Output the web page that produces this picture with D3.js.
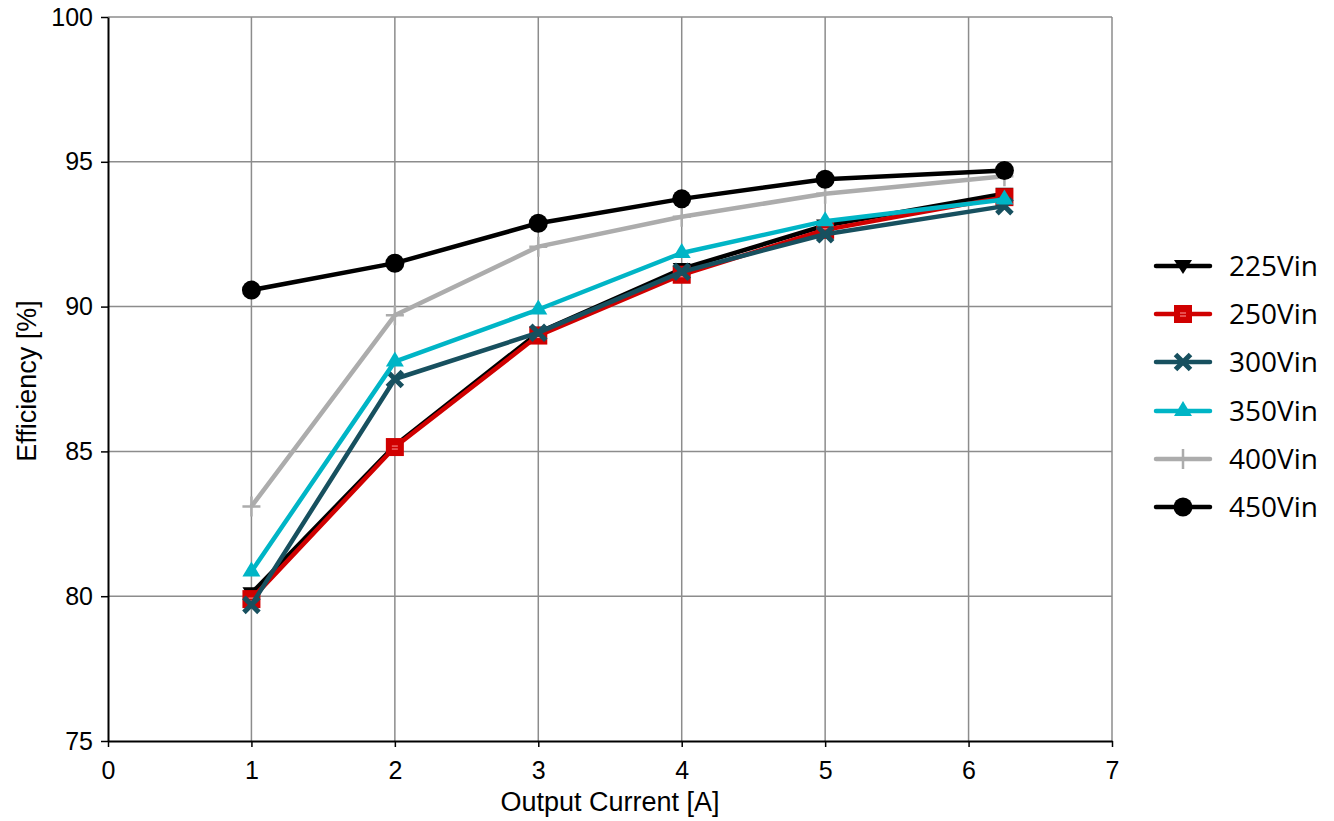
<!DOCTYPE html>
<html>
<head>
<meta charset="utf-8">
<script src="https://cdn.jsdelivr.net/npm/d3@7"></script>
<style>
  body { margin: 0; background: #fff; }
  svg { display: block; }
</style>
</head>
<body>
<div id="chart"></div>
<script>
// Data
var currents = [1, 2, 3, 4, 5, 6.25];
var seriesNames = ["225Vin", "250Vin", "300Vin", "350Vin", "400Vin", "450Vin"];
var eff225 = [80.1, 85.2, 89.1, 91.3, 92.8, 93.9];
var eff250 = [79.9, 85.15, 89.0, 91.1, 92.65, 93.78];
var eff300 = [79.7, 87.5, 89.1, 91.2, 92.5, 93.47];
var eff350 = [80.85, 88.1, 89.9, 91.85, 92.95, 93.7];
var eff400 = [83.1, 89.7, 92.07, 93.1, 93.9, 94.5];
var eff450 = [90.57, 91.5, 92.88, 93.72, 94.4, 94.7];
var xTicks = [0, 1, 2, 3, 4, 5, 6, 7];
var yTicks = [75, 80, 85, 90, 95, 100];

var allSeries = [eff225, eff250, eff300, eff350, eff400, eff450];
var colors = ["#000000", "#d00000", "#17505f", "#00b5c6", "#acacac", "#000000"];
var markers = ["tridown", "square", "cross", "triup", "plus", "circle"];

//Setup
var width = 1334, height = 821;
var margin = { top: 17, right: 222, bottom: 80, left: 108 };
var plotW = width - margin.left - margin.right,
    plotH = height - margin.top - margin.bottom;

var x = d3.scaleLinear().domain([0, 7]).range([0, plotW]);
var y = d3.scaleLinear().domain([75, 100]).range([plotH, 0]);

var svg = d3.select("#chart").append("svg")
    .attr("width", width)
    .attr("height", height);

var g = svg.append("g")
    .attr("transform", "translate(" + margin.left + "," + margin.top + ")");

//Grid
g.append("g").selectAll("line").data(xTicks.slice(1)).join("line")
    .attr("x1", d => x(d)).attr("x2", d => x(d))
    .attr("y1", 0).attr("y2", plotH)
    .attr("stroke", "#8c8c8c").attr("stroke-width", 1.5);
g.append("g").selectAll("line").data(yTicks.slice(1)).join("line")
    .attr("x1", 0).attr("x2", plotW)
    .attr("y1", d => y(d)).attr("y2", d => y(d))
    .attr("stroke", "#8c8c8c").attr("stroke-width", 1.5);

//Axes
var xAxis = g.append("g")
    .attr("transform", "translate(0," + plotH + ")")
    .call(d3.axisBottom(x).tickValues(xTicks).tickFormat(d3.format("d"))
        .tickSize(6).tickSizeOuter(0).tickPadding(14));
var yAxis = g.append("g")
    .call(d3.axisLeft(y).tickValues(yTicks).tickFormat(d3.format("d"))
        .tickSize(7).tickSizeOuter(0).tickPadding(8));
[xAxis, yAxis].forEach(a => {
    a.select(".domain").attr("stroke", "#000").attr("stroke-width", 2);
    a.selectAll(".tick line").attr("stroke", "#000").attr("stroke-width", 1.5);
    a.selectAll(".tick text")
        .attr("fill", "#000")
        .style("font-family", "Liberation Sans, Arial, sans-serif")
        .style("font-size", "25px");
});

//Axis titles
svg.append("text")
    .attr("x", margin.left + x(3.5)).attr("y", 811)
    .attr("text-anchor", "middle")
    .style("font-family", "Liberation Sans, Arial, sans-serif")
    .style("font-size", "27px")
    .text("Output Current [A]");
svg.append("text")
    .attr("transform", "translate(36," + (margin.top + 364) + ") rotate(-90)")
    .attr("text-anchor", "middle")
    .style("font-family", "Liberation Sans, Arial, sans-serif")
    .style("font-size", "27px")
    .text("Efficiency [%]");

//Markers
function drawMarker(sel, type, color) {
    if (type === "circle") {
        sel.append("circle").attr("r", 9.5).attr("fill", color);
    } else if (type === "square") {
        sel.append("rect").attr("x", -9).attr("y", -9).attr("width", 18).attr("height", 18).attr("fill", color);
        sel.append("line").attr("x1", -3).attr("x2", 3).attr("y1", -1).attr("y2", -1).attr("stroke", "#ff9a9a").attr("stroke-width", 1);
        sel.append("line").attr("x1", -3).attr("x2", 3).attr("y1", 2).attr("y2", 2).attr("stroke", "#ff9a9a").attr("stroke-width", 1);
    } else if (type === "tridown") {
        sel.append("path").attr("d", "M-9,-6L9,-6L0,8Z").attr("fill", color);
    } else if (type === "triup") {
        sel.append("path").attr("d", "M0,-10L9,5L-9,5Z").attr("fill", color);
    } else if (type === "cross") {
        sel.append("path").attr("d", "M-7.5,-7.5L7.5,7.5M-7.5,7.5L7.5,-7.5").attr("stroke", color).attr("stroke-width", 5);
    } else if (type === "plus") {
        sel.append("path").attr("d", "M-9,0L9,0M0,-10L0,10").attr("stroke", color).attr("stroke-width", 2.5);
    }
}

var line = d3.line()
    .x((d, i) => x(currents[i]))
    .y(d => y(d));

allSeries.forEach((vals, si) => {
    var sg = g.append("g");
    sg.append("path")
        .attr("d", line(vals))
        .attr("fill", "none")
        .attr("stroke", colors[si])
        .attr("stroke-width", 4.5)
        .attr("stroke-linejoin", "round");
    vals.forEach((v, i) => {
        var m = sg.append("g").attr("transform", "translate(" + x(currents[i]) + "," + y(v) + ")");
        drawMarker(m, markers[si], colors[si]);
    });
});

//Legend
var legendY = [266, 314, 362, 411, 459, 507];
var legend = svg.append("g");
seriesNames.forEach((name, i) => {
    var lg = legend.append("g").attr("transform", "translate(0," + legendY[i] + ")");
    lg.append("line")
        .attr("x1", 1156).attr("x2", 1210)
        .attr("stroke", colors[i]).attr("stroke-width", 4.5)
        .attr("stroke-linecap", "round");
    var m = lg.append("g").attr("transform", "translate(1183,0)");
    drawMarker(m, markers[i], colors[i]);
    lg.append("text")
        .attr("x", 1229).attr("y", 0).attr("dy", "0.36em")
        .style("font-family", "Open Sans, Noto Sans, sans-serif")
        .style("font-size", "28px")
        .text(name);
});
</script>
</body>
</html>
